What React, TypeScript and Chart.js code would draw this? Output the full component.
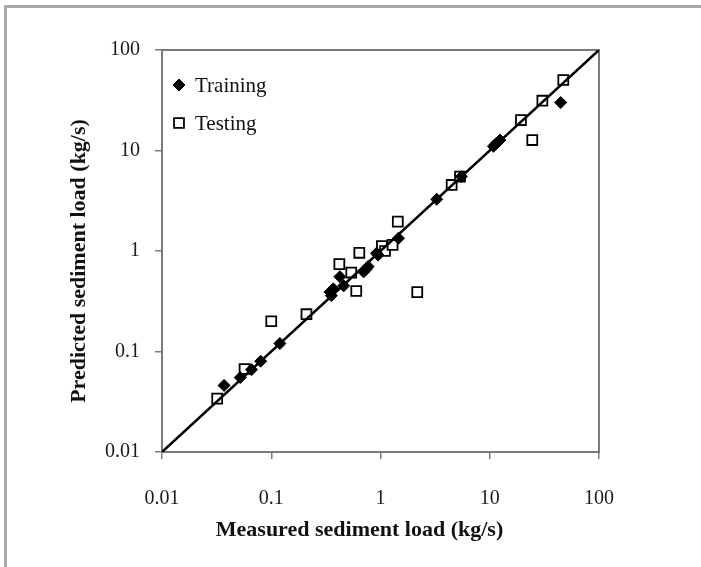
import React, { useEffect, useRef } from "react";
import { Chart, registerables } from "chart.js";

Chart.register(...registerables);

// ---- data ----
const tickValues = [0.01, 0.1, 1, 10, 100];
const tickLabels = ["0.01", "0.1", "1", "10", "100"];

const seriesNames = ["Training", "Testing"];
const xTitle = "Measured sediment load (kg/s)";
const yTitle = "Predicted sediment load (kg/s)";

const trainingX = [0.037, 0.052, 0.066, 0.08, 0.12, 0.345, 0.355, 0.37, 0.425, 0.46, 0.7, 0.74, 0.77, 0.92, 0.95, 1.46, 3.27, 5.5, 10.8, 11.5, 12.4, 44.6];
const trainingY = [0.046, 0.055, 0.066, 0.08, 0.12, 0.39, 0.36, 0.42, 0.555, 0.45, 0.62, 0.66, 0.7, 0.95, 0.91, 1.34, 3.27, 5.5, 11, 11.8, 12.7, 30];

const testingX = [0.032, 0.057, 0.1, 0.21, 0.42, 0.54, 0.6, 0.64, 1.03, 1.1, 1.29, 1.44, 2.17, 4.48, 5.34, 19.3, 24.5, 30.3, 47.1];
const testingY = [0.034, 0.067, 0.2, 0.235, 0.74, 0.61, 0.4, 0.96, 1.12, 1.0, 1.15, 1.96, 0.39, 4.54, 5.49, 20.1, 12.7, 31.3, 50.3];

const lineX = [0.01, 100];
const lineY = [0.01, 100];

const SERIF = '"Liberation Serif", "Times New Roman", serif';

function drawMarker(ctx: CanvasRenderingContext2D, style: string, x: number, y: number, r: number, fill: string, stroke: string, bw: number) {
  ctx.save();
  ctx.beginPath();
  if (style === "rectRot") {
    ctx.moveTo(x - r, y);
    ctx.lineTo(x, y - r);
    ctx.lineTo(x + r, y);
    ctx.lineTo(x, y + r);
    ctx.closePath();
  } else {
    const s = Math.SQRT1_2 * r;
    ctx.rect(x - s, y - s, 2 * s, 2 * s);
  }
  ctx.fillStyle = fill;
  ctx.fill();
  ctx.lineWidth = bw;
  ctx.strokeStyle = stroke;
  ctx.stroke();
  ctx.restore();
}

const decorPlugin = {
  id: "decor",
  beforeDraw(chart: any) {
    const ctx = chart.ctx as CanvasRenderingContext2D;
    ctx.save();
    ctx.fillStyle = "#ffffff";
    ctx.fillRect(0, 0, chart.width, chart.height);
    ctx.fillStyle = "#a9a9a9";
    ctx.fillRect(4, 5, chart.width - 4, 3);
    ctx.fillRect(4, 5, 3, chart.height - 5);
    ctx.restore();
  },
  beforeDatasetsDraw(chart: any) {
    const ctx = chart.ctx as CanvasRenderingContext2D;
    const { left, top, right, bottom } = chart.chartArea;
    ctx.save();
    ctx.strokeStyle = "#7a7a7a";
    ctx.lineWidth = 2;
    ctx.strokeRect(left, top, right - left, bottom - top);
    ctx.restore();
  },
  afterDraw(chart: any) {
    const ctx = chart.ctx as CanvasRenderingContext2D;
    const { left, top, right, bottom } = chart.chartArea;
    ctx.save();
    // axis titles
    ctx.fillStyle = "#111";
    ctx.font = `bold 22px ${SERIF}`;
    ctx.textAlign = "center";
    ctx.textBaseline = "middle";
    ctx.fillText(xTitle, (left + right) / 2 - 21, bottom + 78);
    ctx.translate(left - 83, (top + bottom) / 2 + 10);
    ctx.rotate(-Math.PI / 2);
    ctx.fillText(yTitle, 0, 0);
    ctx.restore();

    // legend inside plot
    ctx.save();
    const ds = chart.data.datasets;
    const items = [ds[1], ds[2]];
    const ys = [top + 35, top + 73];
    ctx.font = `21px ${SERIF}`;
    ctx.fillStyle = "#111";
    ctx.textAlign = "left";
    ctx.textBaseline = "middle";
    items.forEach((d: any, i: number) => {
      drawMarker(ctx, d.pointStyle, left + 17, ys[i], d.pointRadius, d.backgroundColor, d.borderColor, d.borderWidth);
      ctx.fillStyle = "#111";
      ctx.fillText(seriesNames[i], left + 33, ys[i] + 1);
    });
    ctx.restore();
  },
};

export default function App() {
  const ref = useRef<HTMLCanvasElement | null>(null);

  useEffect(() => {
    if (!ref.current) return;
    const axisCommon = (axis: string) => ({
      type: "logarithmic" as const,
      min: 0.01,
      max: 100,
      afterBuildTicks: (scale: any) => {
        scale.ticks = tickValues.map((v) => ({ value: v }));
      },
      grid: {
        display: true,
        drawOnChartArea: false,
        drawTicks: true,
        tickLength: 7,
        tickColor: "#7a7a7a",
        lineWidth: 1.5,
      },
      border: { display: false },
      ticks: {
        autoSkip: false,
        maxRotation: 0,
        color: "#1a1a1a",
        font: { family: SERIF, size: 20 },
        padding: axis === "x" ? 28 : 15,
        callback: (value: any) => {
          const i = tickValues.findIndex((t) => Math.abs(t - Number(value)) < t * 1e-6);
          return i >= 0 ? tickLabels[i] : "";
        },
      },
      title: { display: false },
    });

    const chart = new Chart(ref.current, {
      type: "scatter",
      data: {
        datasets: [
          {
            label: "1:1",
            data: lineX.map((x, i) => ({ x, y: lineY[i] })),
            showLine: true,
            pointRadius: 0,
            borderColor: "#000000",
            borderWidth: 2.5,
            backgroundColor: "#000000",
          },
          {
            label: seriesNames[0],
            data: trainingX.map((x, i) => ({ x, y: trainingY[i] })),
            pointStyle: "rectRot",
            pointRadius: 6,
            backgroundColor: "#000000",
            borderColor: "#000000",
            borderWidth: 1,
          },
          {
            label: seriesNames[1],
            data: testingX.map((x, i) => ({ x, y: testingY[i] })),
            pointStyle: "rect",
            pointRadius: 7,
            backgroundColor: "#ffffff",
            borderColor: "#000000",
            borderWidth: 1.8,
          },
        ],
      },
      options: {
        animation: false,
        responsive: false,
        layout: { padding: { left: 0, top: 50, right: 102, bottom: 0 } },
        plugins: {
          legend: { display: false },
          tooltip: { enabled: false },
        },
        scales: {
          x: {
            ...axisCommon("x"),
            position: "bottom",
            afterFit: (scale: any) => {
              scale.height = 115;
            },
          },
          y: {
            ...axisCommon("y"),
            position: "left",
            afterFit: (scale: any) => {
              scale.width = 162;
            },
          },
        },
      } as any,
      plugins: [decorPlugin],
    });
    return () => chart.destroy();
  }, []);

  return (
    <div style={{ position: "fixed", left: 0, top: 0, width: 701, height: 567, background: "#fff" }}>
      <canvas ref={ref} width={701} height={567} style={{ width: 701, height: 567, display: "block" }} />
    </div>
  );
}
